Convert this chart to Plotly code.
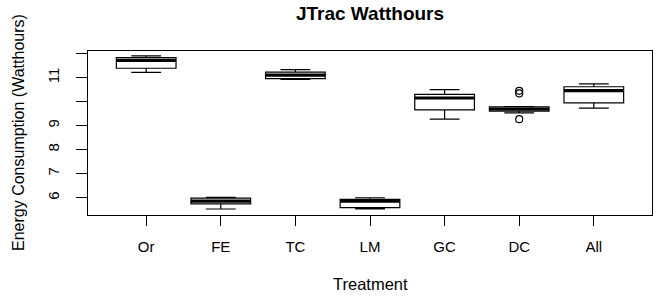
import plotly.graph_objects as go

categories = ["Or", "FE", "TC", "LM", "GC", "DC", "All"]
lower_whisker = [11.22, 5.53, 10.93, 5.54, 9.27, 9.53, 9.73]
q1_values = [11.39, 5.74, 10.96, 5.59, 9.66, 9.60, 9.95]
median_values = [11.72, 5.86, 11.10, 5.86, 10.15, 9.69, 10.46]
q3_values = [11.83, 5.98, 11.23, 5.93, 10.30, 9.78, 10.62]
upper_whisker = [11.90, 6.02, 11.33, 6.00, 10.50, 9.79, 10.74]
outlier_category = ["DC", "DC", "DC"]
outlier_values = [10.45, 10.34, 9.27]
y_tick_values = [6, 7, 8, 9, 10, 11, 12]
y_tick_labels = ["6", "7", "8", "9", "", "11", ""]

positions = list(range(1, len(categories) + 1))
pos_of = {c: p for c, p in zip(categories, positions)}
box_width = 0.8

fig = go.Figure()
fig.add_trace(go.Box(
    x=positions,
    q1=q1_values, median=median_values, q3=q3_values,
    lowerfence=lower_whisker, upperfence=upper_whisker,
    width=box_width, whiskerwidth=0.5,
    fillcolor="white", line=dict(color="black", width=1.2),
    boxpoints=False, showlegend=False, hoverinfo="skip",
))

# thick median segments (R lwd=3)
mx, my = [], []
for p, m in zip(positions, median_values):
    mx += [p - box_width / 2, p + box_width / 2, None]
    my += [m, m, None]
fig.add_trace(go.Scatter(x=mx, y=my, mode="lines",
                         line=dict(color="black", width=3.2),
                         showlegend=False, hoverinfo="skip"))

fig.add_trace(go.Scatter(
    x=[pos_of[c] for c in outlier_category], y=outlier_values,
    mode="markers",
    marker=dict(symbol="circle-open", size=7, color="black", line=dict(width=1.2)),
    showlegend=False, hoverinfo="skip",
))

W, H = 667, 297
L, R, T, B = 88, 652, 51, 215
pw, ph = R - L, B - T
font_family = "Arial, Liberation Sans, sans-serif"
fig.update_layout(
    width=W, height=H,
    margin=dict(l=L, r=W - R, t=T, b=H - B, autoexpand=False),
    plot_bgcolor="white", paper_bgcolor="white",
    font=dict(family=font_family, size=15, color="black"),
    title=dict(text="<b>JTrac Watthours</b>", x=0.5, xref="paper",
               y=1 - 13 / H, yanchor="middle", font=dict(size=19)),
    annotations=[
        dict(text="Treatment", xref="paper", yref="paper",
             x=0.5, y=(B - 284) / ph, xanchor="center", yanchor="middle",
             showarrow=False, font=dict(size=16.5)),
        dict(text="Energy Consumption (Watthours)", xref="paper", yref="paper",
             x=(18 - L) / pw, y=0.5, xanchor="center", yanchor="middle",
             textangle=-90, showarrow=False, font=dict(size=16)),
    ],
)
fig.update_xaxes(
    range=[0.22, 7.78], tickvals=positions, ticktext=categories,
    showline=True, mirror=True, linecolor="black", linewidth=1,
    ticks="outside", ticklen=10, tickcolor="black",
    showgrid=False, zeroline=False, ticklabelstandoff=8, automargin=False,
)
fig.update_yaxes(
    range=[5.281, 12.107], tickvals=y_tick_values, ticktext=y_tick_labels,
    tickangle=-90,
    showline=True, mirror=True, linecolor="black", linewidth=1,
    ticks="outside", ticklen=11, tickcolor="black",
    showgrid=False, zeroline=False, ticklabelstandoff=11, automargin=False,
)

fig.write_html("out.html",
               config={"displayModeBar": False},
               post_script="document.body.style.margin='0';document.body.style.overflow='hidden';")
